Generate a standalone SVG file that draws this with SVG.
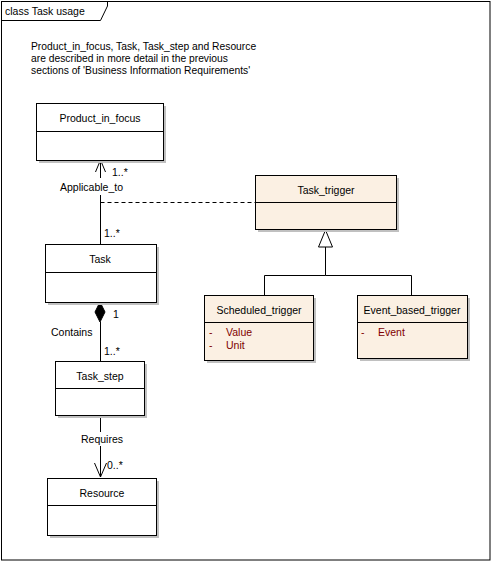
<svg xmlns="http://www.w3.org/2000/svg" width="492" height="561" viewBox="0 0 492 561">
<style>
text{font-family:"Liberation Sans",Arial,sans-serif;font-size:10.5px;fill:#000}
.n{font-size:10.3px}
.c{text-anchor:middle}
.a{fill:#800000}
.box{fill:#fff;stroke:#000;stroke-width:1}
.cream{fill:#fbf0e3;stroke:#000;stroke-width:1}
.sh{fill:#c0c0c0}
.ln{stroke:#000;stroke-width:1;fill:none}
</style>
<rect x="0" y="0" width="492" height="561" fill="#fff"/>
<g id="frame">
<rect x="1.5" y="1.5" width="488.5" height="558.5" class="ln"/>
<path d="M1.5,20.5 H100.5 L107.5,6 V1.5" class="ln"/>
<text x="5" y="15">class Task usage</text>
</g>
<g id="note">
<text x="31" y="50" class="n">Product_in_focus, Task, Task_step and Resource</text>
<text x="31" y="62" class="n">are described in more detail in the previous</text>
<text x="31" y="74" class="n">sections of 'Business Information Requirements'</text>
</g>
<g id="connectors">
<path d="M100.5,160 V178 M100.5,195 V244" class="ln"/>
<path d="M95.5,172 L100.5,160 L105.5,172" class="ln"/>
<path d="M100.5,202.5 H255" class="ln" stroke-dasharray="4,3"/>
<path d="M100,302 L105,312 L100,322 L95,312 Z" fill="#000" stroke="#000"/>
<path d="M100.5,322 V361" class="ln"/>
<path d="M100.5,415 V432 M100.5,446 V477" class="ln"/>
<path d="M94.5,463 L100.5,477 L106.5,463" class="ln"/>
<path d="M325.5,247 V275.5 H264.5 V295 M325.5,275.5 H411.5 V295" class="ln"/>
<path d="M325.5,230 L332.5,247 H318.5 Z" fill="#fff" stroke="#000"/>
<text x="112" y="176">1..*</text>
<text x="60" y="191">Applicable_to</text>
<text x="104" y="237">1..*</text>
<text x="113" y="318">1</text>
<text x="51" y="336">Contains</text>
<text x="104" y="355">1..*</text>
<text x="81" y="443">Requires</text>
<text x="107" y="469">0..*</text>
</g>
<g id="Product_in_focus">
<rect x="39" y="106" width="127" height="57" class="sh"/>
<rect x="36.5" y="103.5" width="127" height="57" class="box"/>
<path d="M36.5,131.5 H163.5" class="ln"/>
<text x="100" y="122" class="c">Product_in_focus</text>
</g>
<g id="Task">
<rect x="48" y="247" width="111" height="58" class="sh"/>
<rect x="45.5" y="244.5" width="111" height="58" class="box"/>
<path d="M45.5,272.5 H156.5" class="ln"/>
<text x="100" y="263" class="c">Task</text>
</g>
<g id="Task_step">
<rect x="58" y="364" width="89" height="54" class="sh"/>
<rect x="55.5" y="361.5" width="89" height="54" class="box"/>
<path d="M55.5,388.5 H144.5" class="ln"/>
<text x="100" y="380" class="c">Task_step</text>
</g>
<g id="Resource">
<rect x="50" y="481" width="109" height="57" class="sh"/>
<rect x="47.5" y="478.5" width="109" height="57" class="box"/>
<path d="M47.5,505.5 H156.5" class="ln"/>
<text x="102" y="497" class="c">Resource</text>
</g>
<g id="Task_trigger">
<rect x="258" y="178" width="141" height="54" class="sh"/>
<rect x="255.5" y="175.5" width="141" height="54" class="cream"/>
<path d="M255.5,202.5 H396.5" class="ln"/>
<text x="326" y="194" class="c">Task_trigger</text>
</g>
<g id="Scheduled_trigger">
<rect x="207" y="298" width="109" height="65" class="sh"/>
<rect x="204.5" y="295.5" width="109" height="65" class="cream"/>
<path d="M204.5,322.5 H313.5" class="ln"/>
<text x="259" y="314" class="c">Scheduled_trigger</text>
<text x="209" y="336" class="a">-</text>
<text x="226" y="336" class="a">Value</text>
<text x="209" y="349" class="a">-</text>
<text x="226" y="349" class="a">Unit</text>
</g>
<g id="Event_based_trigger">
<rect x="360" y="298" width="110" height="63" class="sh"/>
<rect x="357.5" y="295.5" width="110" height="63" class="cream"/>
<path d="M357.5,322.5 H467.5" class="ln"/>
<text x="412" y="314" class="c">Event_based_trigger</text>
<text x="361" y="336" class="a">-</text>
<text x="378" y="336" class="a">Event</text>
</g>
</svg>
